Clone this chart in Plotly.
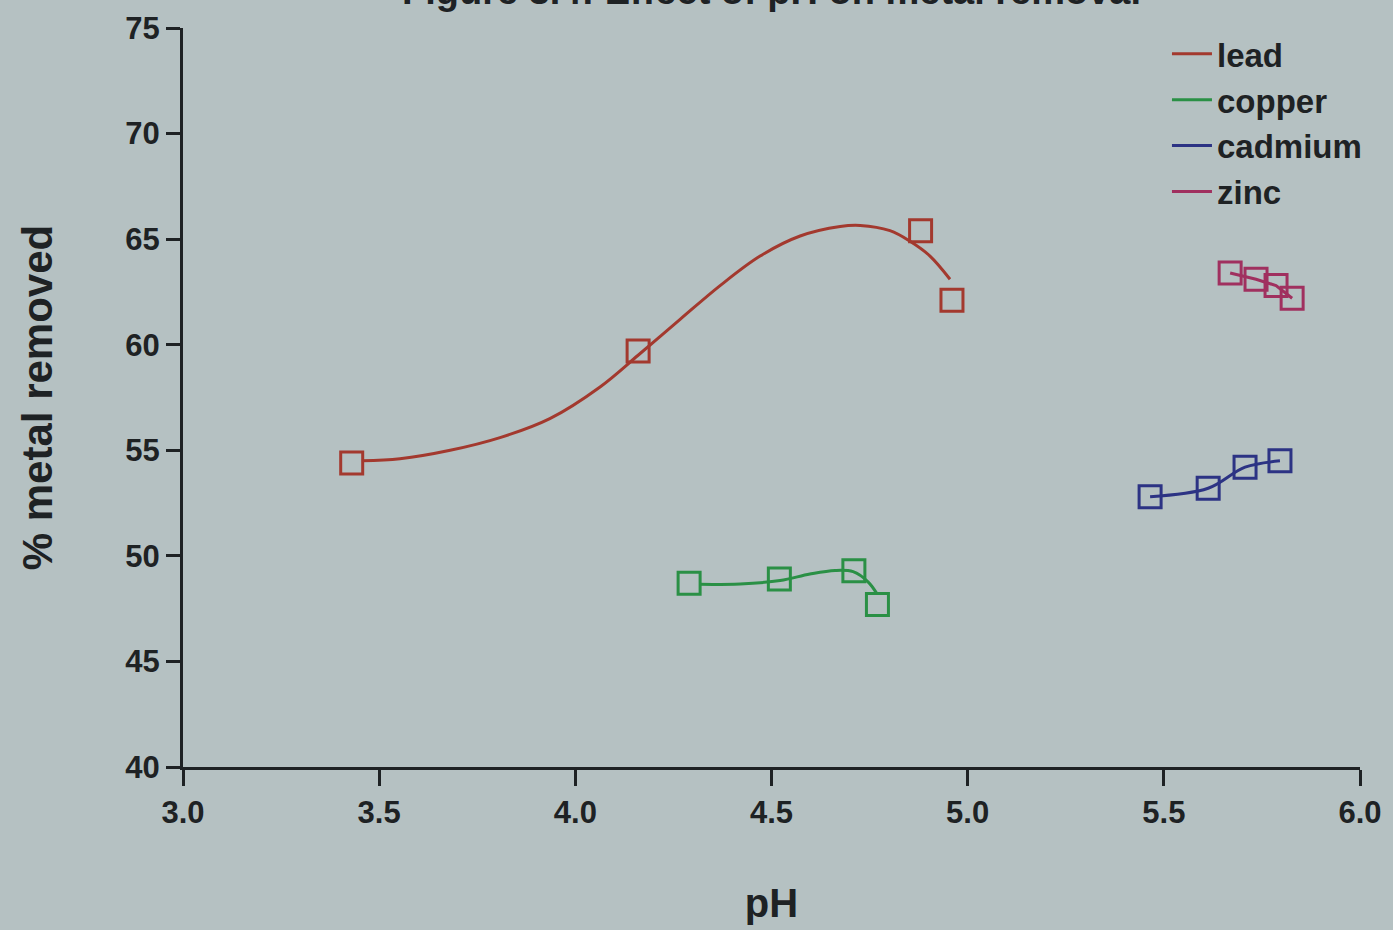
import plotly.graph_objects as go

# ---- data ----
lead_ph = [3.43, 4.16, 4.88, 4.96]
lead_pct = [54.4, 59.7, 65.4, 62.1]
lead_fit_ph = [3.456, 3.553, 3.681, 3.808, 3.935, 4.063, 4.160, 4.267, 4.369, 4.471,
               4.573, 4.675, 4.726, 4.802, 4.853, 4.904, 4.955]
lead_fit_pct = [54.5, 54.6, 55.0, 55.6, 56.5, 58.0, 59.5, 61.2, 62.8, 64.2,
                65.15, 65.6, 65.65, 65.4, 64.9, 64.2, 63.1]

copper_ph = [4.29, 4.52, 4.71, 4.77]
copper_pct = [48.7, 48.9, 49.3, 47.7]
copper_fit_ph = [4.318, 4.420, 4.522, 4.598, 4.662, 4.708, 4.746, 4.769]
copper_fit_pct = [48.65, 48.67, 48.83, 49.14, 49.31, 49.25, 48.77, 48.2]

cadmium_ph = [5.465, 5.613, 5.707, 5.796]
cadmium_pct = [52.8, 53.2, 54.2, 54.5]

zinc_ph = [5.669, 5.735, 5.786, 5.827]
zinc_pct = [63.4, 63.1, 62.8, 62.2]

names = ["lead", "copper", "cadmium", "zinc"]
colors = ["#a3392e", "#2a9045", "#2c3384", "#a0305f"]

x_ticks = [3.0, 3.5, 4.0, 4.5, 5.0, 5.5, 6.0]
y_ticks = [40, 45, 50, 55, 60, 65, 70, 75]

BG = "#b5c1c2"
INK = "#1e2224"
FONT = "Liberation Sans"

fig = go.Figure()

line_sets = [
    (lead_fit_ph, lead_fit_pct, "spline"),
    (copper_fit_ph, copper_fit_pct, "spline"),
    (cadmium_ph, cadmium_pct, "spline"),
    (zinc_ph, zinc_pct, "linear"),
]
for (xs, ys, shape), name, col in zip(line_sets, names, colors):
    fig.add_trace(go.Scatter(
        x=xs, y=ys, mode="lines", name=name,
        line=dict(color=col, width=3, shape=shape, smoothing=1.0),
    ))

marker_sets = [(lead_ph, lead_pct), (copper_ph, copper_pct),
               (cadmium_ph, cadmium_pct), (zinc_ph, zinc_pct)]
for (xs, ys), name, col in zip(marker_sets, names, colors):
    fig.add_trace(go.Scatter(
        x=xs, y=ys, mode="markers", name=name, showlegend=False,
        marker=dict(symbol="square-open", size=22, color=col,
                    line=dict(color=col, width=3)),
    ))

fig.add_annotation(
    text="Figure 3.4: Effect of pH on metal removal",
    xref="paper", yref="paper", x=0.5, y=1 + 14 / 739, yanchor="bottom",
    xanchor="center", showarrow=False,
    font=dict(family=FONT, size=38, color=INK, weight="bold"),
)

fig.update_layout(
    width=1393, height=930,
    margin=dict(l=183, r=33, t=28, b=163),
    paper_bgcolor=BG, plot_bgcolor=BG,
    font=dict(family=FONT, color=INK, weight="bold"),
    legend=dict(
        x=0.836, y=1.003, xanchor="left", yanchor="top",
        bgcolor="rgba(0,0,0,0)", font=dict(size=33, family=FONT, weight="bold"),
        tracegroupgap=0, itemwidth=40,
    ),
    showlegend=True,
)

fig.update_xaxes(
    range=[3.0, 6.0], tickvals=x_ticks, ticktext=[f"{v:.1f}" for v in x_ticks],
    showgrid=False, zeroline=False, showline=True, linecolor=INK, linewidth=3,
    ticks="outside", ticklen=16, tickwidth=2.5, tickcolor=INK,
    tickfont=dict(size=31, family=FONT, weight="bold"),
    title=dict(text="pH", font=dict(size=40, family=FONT, weight="bold"), standoff=60),
)
fig.update_yaxes(
    range=[40, 75], tickvals=y_ticks,
    showgrid=False, zeroline=False, showline=True, linecolor=INK, linewidth=3,
    ticks="outside", ticklen=14, tickwidth=2.5, tickcolor=INK,
    tickfont=dict(size=31, family=FONT, weight="bold"),
    title=dict(text="% metal removed", font=dict(size=42, family=FONT, weight="bold"), standoff=60),
)

fig.write_html(
    "out.html",
    config={"displayModeBar": False},
    post_script="document.body.style.margin='0';document.body.style.overflow='hidden';",
)
